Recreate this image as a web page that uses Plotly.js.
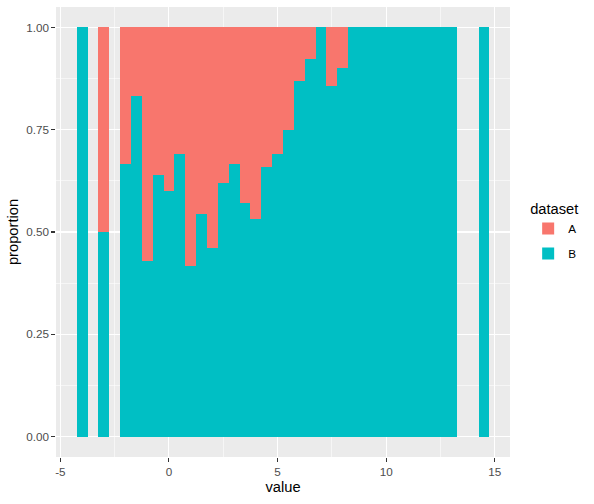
<!DOCTYPE html>
<html>
<head>
<meta charset="utf-8">
<script src="https://cdn.plot.ly/plotly-3.0.1.min.js"></script>
<style>html,body{margin:0;padding:0;background:#fff;}#chart{width:594px;height:504px;}</style>
</head>
<body>
<div id="chart"></div>
<script>
// bin centres (binwidth 0.5)
const binCenters = [-4, -3, -2, -1.5, -1, -0.5, 0, 0.5, 1, 1.5, 2, 2.5, 3, 3.5, 4, 4.5, 5, 5.5, 6, 6.5, 7, 7.5, 8, 8.5, 9, 9.5, 10, 10.5, 11, 11.5, 12, 12.5, 13, 14.5];
// proportion of dataset B in each bin
const propB = [1, 0.5, 0.667, 0.833, 0.429, 0.64, 0.6, 0.69, 0.417, 0.545, 0.46, 0.62, 0.667, 0.57, 0.533, 0.66, 0.69, 0.75, 0.87, 0.923, 1, 0.857, 0.9, 1, 1, 1, 1, 1, 1, 1, 1, 1, 1, 1];
// proportion of dataset A in each bin
const propA = [0, 0.5, 0.333, 0.167, 0.571, 0.36, 0.4, 0.31, 0.583, 0.455, 0.54, 0.38, 0.333, 0.43, 0.467, 0.34, 0.31, 0.25, 0.13, 0.077, 0, 0.143, 0.1, 0, 0, 0, 0, 0, 0, 0, 0, 0, 0, 0];
const binWidth = 0.5;
const xTickVals = [-5, 0, 5, 10, 15];
const xTickText = ['-5', '0', '5', '10', '15'];
const yTickVals = [0, 0.25, 0.5, 0.75, 1];
const yTickText = ['0.00', '0.25', '0.50', '0.75', '1.00'];

const traces = [
  {type: 'bar', name: 'B', legendgroup: 'B', legendrank: 2, x: binCenters, y: propB, width: binWidth,
   marker: {color: '#00BFC4', line: {width: 0}}, hoverinfo: 'x+y'},
  {type: 'bar', name: 'A', legendgroup: 'A', legendrank: 1, x: binCenters, y: propA, width: binWidth,
   marker: {color: '#F8766D', line: {width: 0}}, hoverinfo: 'x+y'}
];

const axisCommon = {
  showline: false, zeroline: false,
  gridcolor: '#FFFFFF', gridwidth: 1.07,
  ticks: 'outside', ticklen: 3.7, tickwidth: 1.07, tickcolor: '#333333',
  tickfont: {family: 'Liberation Sans, Arial, sans-serif', size: 11.7, color: '#4D4D4D'}
};

const layout = {
  width: 594, height: 504,
  margin: {l: 56, r: 84, t: 7, b: 46.5},
  paper_bgcolor: '#FFFFFF', plot_bgcolor: '#EBEBEB',
  barmode: 'stack', bargap: 0,
  font: {family: 'Liberation Sans, Arial, sans-serif', color: '#000000'},
  xaxis: Object.assign({}, axisCommon, {
    range: [-5.2, 15.7], tickvals: xTickVals, ticktext: xTickText,
    minor: {showgrid: true, gridcolor: '#FFFFFF', gridwidth: 0.53, dtick: 2.5, tick0: 0, ticks: ''},
    title: {text: 'value', font: {size: 14.7, color: '#000000'}, standoff: 4}
  }),
  yaxis: Object.assign({}, axisCommon, {
    range: [-0.05, 1.05], tickvals: yTickVals, ticktext: yTickText,
    minor: {showgrid: true, gridcolor: '#FFFFFF', gridwidth: 0.53, dtick: 0.125, tick0: 0, ticks: ''},
    title: {text: 'proportion', font: {size: 14.7, color: '#000000'}, standoff: 4}
  }),
  legend: {
    x: 1.04, xanchor: 'left', y: 0.5, yanchor: 'middle',
    traceorder: 'grouped',
    tracegroupgap: 6,
    title: {text: 'dataset', font: {size: 14.7, color: '#000000'}},
    font: {size: 11.7, color: '#000000'},
    bgcolor: 'rgba(0,0,0,0)'
  },
  showlegend: true
};

Plotly.newPlot('chart', traces, layout, {displayModeBar: false, staticPlot: true});
</script>
</body>
</html>
